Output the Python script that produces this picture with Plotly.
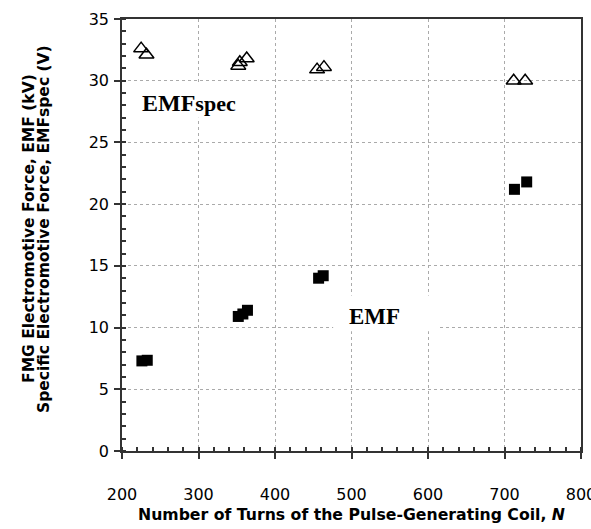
import plotly.graph_objects as go

# EMF (kV) vs N, filled squares
n_emf = [226, 233, 352, 358, 364, 457, 463, 713, 729]
emf = [7.3, 7.35, 10.9, 11.1, 11.4, 14.0, 14.2, 21.2, 21.8]

# EMFspec (V) vs N, open triangles
n_spec = [225, 232, 352, 354, 363, 455, 464, 712, 727]
emf_spec = [32.6, 32.1, 31.2, 31.5, 31.8, 30.9, 31.1, 30.0, 30.0]

x_ticks = [200, 300, 400, 500, 600, 700, 800]
y_ticks = [0, 5, 10, 15, 20, 25, 30, 35]

fig = go.Figure()
fig.add_trace(go.Scatter(
    x=n_emf, y=emf, mode="markers",
    marker=dict(symbol="square", size=11, color="black"),
    showlegend=False))
fig.add_trace(go.Scatter(
    x=n_spec, y=emf_spec, mode="markers",
    marker=dict(symbol="triangle-up-open", size=13, color="black",
                line=dict(width=1.5, color="black")),
    showlegend=False))

# white boxes behind the in-plot labels
fig.add_shape(type="rect", xref="x", yref="y", x0=217, x1=367, y0=27.0, y1=29.7,
              fillcolor="white", line=dict(width=0), layer="between")
fig.add_shape(type="rect", xref="x", yref="y", x0=476, x1=613, y0=9.7, y1=12.6,
              fillcolor="white", line=dict(width=0), layer="between")

serif = "Liberation Serif, Times New Roman, serif"
fig.add_annotation(x=224, y=28.2, xref="x", yref="y", xanchor="left", yanchor="middle",
                   text="<b>EMF<span style='font-size:22px'>spec</span></b>",
                   showarrow=False, font=dict(family=serif, size=24, color="black"))
fig.add_annotation(x=494, y=10.9, xref="x", yref="y", xanchor="left", yanchor="middle",
                   text="<b>EMF</b>",
                   showarrow=False, font=dict(family=serif, size=23, color="black"))

sans = "DejaVu Sans, Arial, sans-serif"
fig.add_annotation(x=-0.2026, y=0.514, xref="paper", yref="paper", textangle=-90,
                   xanchor="center", yanchor="middle", showarrow=False,
                   text="<b>FMG Electromotive Force, EMF (kV)</b>",
                   font=dict(family=sans, size=15.5, color="black"))
fig.add_annotation(x=-0.1699, y=0.514, xref="paper", yref="paper", textangle=-90,
                   xanchor="center", yanchor="middle", showarrow=False,
                   text="<b>Specific Electromotive Force, EMFspec (V)</b>",
                   font=dict(family=sans, size=15.5, color="black"))
fig.add_annotation(x=0.5, y=-0.148, xref="paper", yref="paper",
                   xanchor="center", yanchor="middle", showarrow=False,
                   text="<b>Number of Turns of the Pulse-Generating Coil, <i>N</i></b>",
                   font=dict(family=sans, size=15.7, color="black"))

fig.update_xaxes(
    range=[200, 800], tickvals=x_ticks, ticktext=[str(v) for v in x_ticks],
    showline=True, linecolor="#333", linewidth=1.5, mirror=True,
    ticks="outside", ticklen=6, tickwidth=1.5, tickcolor="#333",
    ticklabelstandoff=22, automargin=False, ticklabeloverflow="allow",
    minor=dict(dtick=20, ticks="inside", ticklen=4, tickcolor="#333", showgrid=False),
    showgrid=True, gridcolor="#aaaaaa", griddash="dot", gridwidth=1,
    zeroline=False, tickfont=dict(family=sans, size=16, color="black"))
fig.update_yaxes(
    range=[0, 35], tickvals=y_ticks, ticktext=[str(v) for v in y_ticks],
    showline=True, linecolor="#333", linewidth=1.5, mirror=True,
    ticks="outside", ticklen=6, tickwidth=1.5, tickcolor="#333",
    ticklabelstandoff=2, automargin=False, ticklabeloverflow="allow",
    minor=dict(dtick=1, ticks="inside", ticklen=4, tickcolor="#333", showgrid=False),
    showgrid=True, gridcolor="#aaaaaa", griddash="dot", gridwidth=1,
    zeroline=False, tickfont=dict(family=sans, size=16, color="black"))

fig.update_layout(
    width=591, height=529,
    margin=dict(l=122, r=10, t=19, b=78, autoexpand=False),
    paper_bgcolor="white", plot_bgcolor="white",
    showlegend=False)

fig.write_html("out.html", config={"displayModeBar": False},
               post_script="document.body.style.margin='0';document.body.style.overflow='hidden';")
